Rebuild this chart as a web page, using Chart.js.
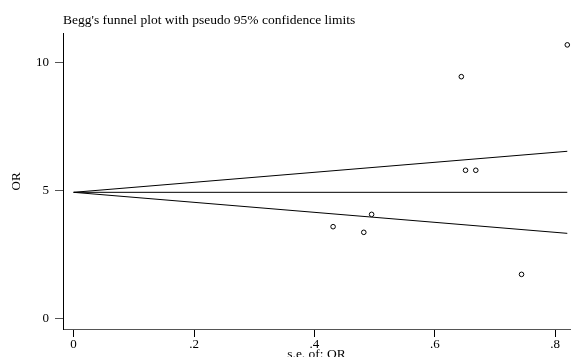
<!DOCTYPE html>
<html>
<head>
<meta charset="utf-8">
<script src="https://cdn.jsdelivr.net/npm/chart.js@4/dist/chart.umd.min.js"></script>
<style>
  body { margin: 0; background: #fff; }
  canvas { display: block; }
</style>
</head>
<body>
<canvas id="funnel" width="575" height="357"></canvas>
<script>
// studies: standard error and OR
var studySe = [0.431, 0.482, 0.495, 0.644, 0.651, 0.668, 0.744, 0.820];
var studyOr = [3.60, 3.38, 4.08, 9.45, 5.80, 5.80, 1.74, 10.69];

// pooled estimate and pseudo 95% limits (end points)
var limitSe = [0, 0.82];
var pooledOr = [4.94, 4.94];
var upperOr = [4.94, 6.54];
var lowerOr = [4.94, 3.34];

var xTicks = [0, 0.2, 0.4, 0.6, 0.8];
var xTickLabels = ["0", ".2", ".4", ".6", ".8"];
var yTicks = [0, 5, 10];
var yTickLabels = ["0", "5", "10"];

var serif = "'Liberation Serif', 'Times New Roman', serif";

function pairs(xs, ys) {
  return xs.map(function (x, i) { return { x: x, y: ys[i] }; });
}

function lineSet(ys) {
  return {
    type: "line",
    data: pairs(limitSe, ys),
    borderColor: "#000",
    borderWidth: 1,
    pointRadius: 0,
    fill: false,
    clip: false,
  };
}

var ctx = document.getElementById("funnel").getContext("2d");
var chart = new Chart(ctx, {
  type: "scatter",
  data: {
    datasets: [
      {
        data: pairs(studySe, studyOr),
        pointStyle: "circle",
        pointRadius: 2.3,
        borderWidth: 1,
        borderColor: "#000",
        backgroundColor: "#fff",
        clip: false,
      },
      lineSet(pooledOr),
      lineSet(upperOr),
      lineSet(lowerOr),
    ],
  },
  options: {
    responsive: false,
    animation: false,
    devicePixelRatio: 1,
    layout: { padding: 0 },
    plugins: {
      legend: { display: false },
      tooltip: { enabled: false },
      title: {
        display: true,
        text: "Begg's funnel plot with pseudo 95% confidence limits",
        fullSize: false,
        align: "start",
        color: "#000",
        font: { family: serif, size: 13.5, weight: "normal", lineHeight: 1.1 },
        padding: { top: 13, bottom: 6 },
      },
    },
    scales: {
      x: {
        type: "linear",
        min: -0.0176,
        max: 0.8245,
        afterFit: function (s) { s.height = 28; },
        afterBuildTicks: function (s) {
          s.ticks = xTicks.map(function (v) { return { value: v }; });
        },
        ticks: {
          color: "#000",
          font: { family: serif, size: 13 },
          padding: 0,
          maxRotation: 0,
          callback: function (v, i) { return xTickLabels[i]; },
        },
        grid: { drawOnChartArea: false, drawTicks: true, tickLength: 8, color: "#000" },
        border: { display: true, color: "#555", width: 1 },
        title: {
          display: true,
          text: "s.e. of: OR",
          color: "#000",
          font: { family: serif, size: 13.5, lineHeight: 1 },
          padding: { top: 0, bottom: -4 },
        },
      },
      y: {
        type: "linear",
        min: -0.39,
        max: 11.12,
        afterFit: function (s) { s.width = 63; },
        afterBuildTicks: function (s) {
          s.ticks = yTicks.map(function (v) { return { value: v }; });
        },
        ticks: {
          color: "#000",
          font: { family: serif, size: 13 },
          padding: 6,
          callback: function (v, i) { return yTickLabels[i]; },
        },
        grid: { drawOnChartArea: false, drawTicks: true, tickLength: 8, color: "#555" },
        border: { display: true, color: "#000", width: 1 },
        title: {
          display: true,
          text: "OR",
          color: "#000",
          font: { family: serif, size: 13, lineHeight: 1.2 },
          padding: { top: 9, bottom: 0 },
        },
      },
    },
  },
});
</script>
</body>
</html>
